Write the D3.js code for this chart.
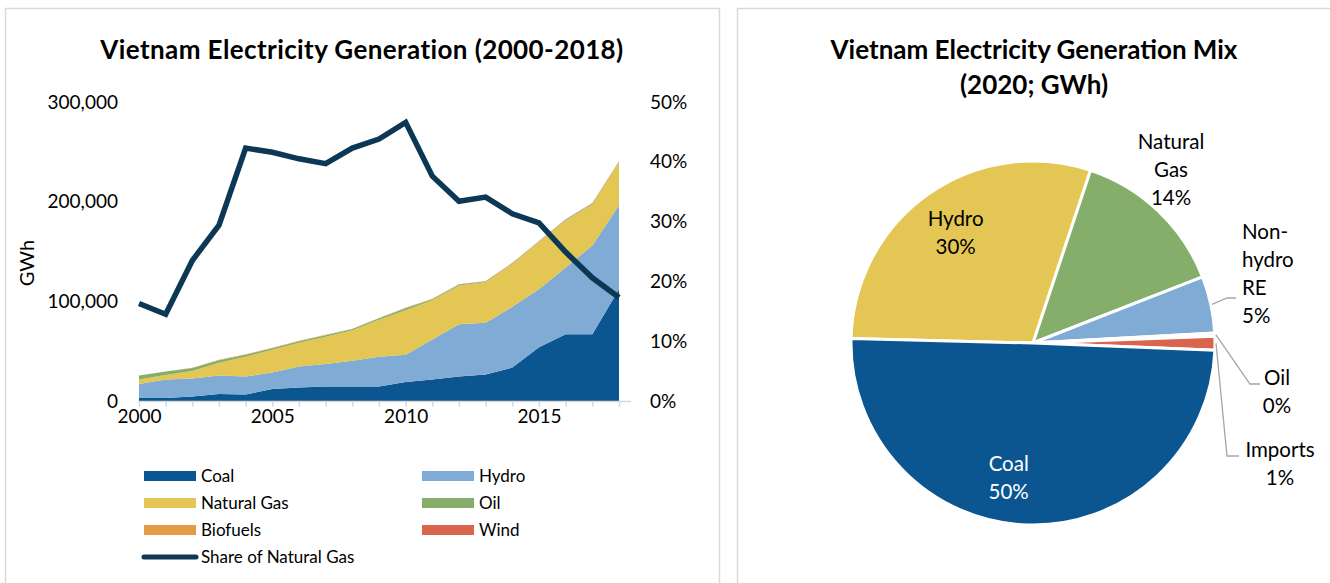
<!DOCTYPE html>
<html>
<head>
<meta charset="utf-8">
<script src="https://cdn.jsdelivr.net/npm/d3@7"></script>
<style>
  body { margin: 0; background: #fff; }
  svg { display: block; font-family: Lato, "Open Sans", sans-serif; }
</style>
</head>
<body>
<svg id="chart" width="1330" height="583"></svg>
<script>
// ---- data (GWh) ----
var years = d3.range(2000, 2019);
var coal     = [3000, 3000, 4500, 7000, 6500, 12000, 13500, 14500, 14500, 14500, 19000, 21500, 24500, 26500, 33500, 54000, 67000, 67000, 112000];
var hydro    = [14000, 18500, 18000, 18500, 18000, 16500, 21000, 22500, 26000, 30000, 27500, 40200, 52500, 52000, 61000, 58000, 67000, 89000, 84500];
var gas      = [4500, 4500, 7500, 13000, 20000, 23000, 24000, 27500, 30500, 37000, 44500, 39300, 39000, 41000, 43000, 47500, 47000, 41500, 43000];
var oil      = [4000, 3500, 3000, 2500, 2000, 1500, 1500, 1500, 1200, 1500, 2000, 1200, 800, 700, 600, 500, 800, 600, 500];
var biofuels = [0, 0, 300, 400, 400, 400, 400, 400, 300, 300, 400, 300, 200, 200, 300, 300, 200, 200, 200];
var wind     = [0, 0, 0, 0, 0, 0, 0, 0, 0, 0, 100, 100, 100, 100, 200, 200, 300, 300, 400];
var gasShare = [0.163, 0.145, 0.235, 0.294, 0.423, 0.416, 0.405, 0.397, 0.423, 0.438, 0.466, 0.376, 0.334, 0.341, 0.313, 0.298, 0.249, 0.206, 0.173];

var leftTicks  = [0, 100000, 200000, 300000];
var rightTicks = [0, 0.1, 0.2, 0.3, 0.4, 0.5];

var seriesNames  = ["Coal", "Hydro", "Natural Gas", "Oil", "Biofuels", "Wind"];
var seriesColors = ["#0b5591", "#7fabd4", "#e3c654", "#86ae6b", "#e39b44", "#d9654f"];

// 2020 mix (GWh)
var mixNames  = ["Hydro", "Natural Gas", "Non-hydro RE", "Oil", "Imports", "Coal"];
var mixValues = [73500, 34500, 12500, 700, 3000, 123000];
var mixColors = ["#e3c654", "#86ae6b", "#7fabd4", "#f4dab2", "#d9654f", "#0b5591"];

var svg = d3.select("#chart");

// panel frames
svg.append("rect").attr("x", 5.5).attr("y", 8.5).attr("width", 714).attr("height", 600)
  .attr("fill", "none").attr("stroke", "#d9d9d9").attr("stroke-width", 1.5);
svg.append("rect").attr("x", 737.5).attr("y", 8.5).attr("width", 620).attr("height", 600)
  .attr("fill", "none").attr("stroke", "#d9d9d9").attr("stroke-width", 1.5);

// ================= left: stacked area =================
var x = d3.scaleLinear().domain([2000, 2018]).range([139, 619]);
var y = d3.scaleLinear().domain([0, 300000]).range([401, 102]);
var y2 = d3.scaleLinear().domain([0, 0.5]).range([401, 102]);

svg.append("text").attr("x", 362).attr("y", 59).attr("text-anchor", "middle")
  .style("font-size", "26px").style("font-weight", "bold").style("letter-spacing", "0.4px")
  .text("Vietnam Electricity Generation (2000-2018)");

var table = years.map(function(yr, i) {
  return {year: yr, "Coal": coal[i], "Hydro": hydro[i], "Natural Gas": gas[i],
          "Oil": oil[i], "Biofuels": biofuels[i], "Wind": wind[i]};
});
var stack = d3.stack().keys(seriesNames)(table);
var color = d3.scaleOrdinal().domain(seriesNames).range(seriesColors);

var area = d3.area()
  .x(function(d) { return x(d.data.year); })
  .y0(function(d) { return y(d[0]); })
  .y1(function(d) { return y(d[1]); });

svg.append("g").selectAll("path").data(stack).enter().append("path")
  .attr("d", area)
  .attr("fill", function(d) { return color(d.key); });

// x axis
var xAxis = svg.append("g").attr("transform", "translate(0,401)")
  .call(d3.axisBottom(x).tickValues(years).tickSize(6).tickSizeOuter(0)
    .tickFormat(function(d) { return d % 5 === 0 ? d : ""; }));
xAxis.select(".domain").attr("d", "M138,0.5H631").attr("stroke", "#d9d9d9").attr("stroke-width", 1.5);
xAxis.selectAll(".tick line").attr("stroke", "#d9d9d9").attr("stroke-width", 1.5);
xAxis.selectAll(".tick text").attr("y", 9).style("font-size", "19px").style("font-family", "Lato").attr("fill", "#000");

// left axis
var yAxis = svg.append("g").attr("transform", "translate(118,0)")
  .call(d3.axisLeft(y).tickValues(leftTicks).tickSize(0).tickPadding(0).tickFormat(d3.format(",")));
yAxis.select(".domain").remove();
yAxis.selectAll(".tick text").style("font-size", "19px").style("font-family", "Lato").attr("fill", "#000");

// right axis
var y2Axis = svg.append("g").attr("transform", "translate(650,0)")
  .call(d3.axisRight(y2).tickValues(rightTicks).tickSize(0).tickPadding(0).tickFormat(d3.format(".0%")));
y2Axis.select(".domain").remove();
y2Axis.selectAll(".tick text").style("font-size", "19px").style("font-family", "Lato").attr("fill", "#000");

svg.append("text").attr("transform", "translate(34,263) rotate(-90)").attr("text-anchor", "middle")
  .style("font-size", "20px").text("GWh");

// share of natural gas line
var line = d3.line()
  .x(function(d, i) { return x(years[i]); })
  .y(function(d) { return y2(d); });
svg.append("path").datum(gasShare).attr("d", line)
  .attr("fill", "none").attr("stroke", "#0c3856").attr("stroke-width", 5.5).attr("stroke-linejoin", "miter");

// legend
var legendItems = seriesNames.map(function(n) { return {name: n, type: "area"}; });
legendItems.push({name: "Share of Natural Gas", type: "line"});
var legend = svg.append("g").selectAll("g").data(legendItems).enter().append("g")
  .attr("transform", function(d, i) {
    var col = d.type === "line" ? 0 : i % 2;
    var row = Math.floor(i / 2);
    return "translate(" + (144 + col * 278) + "," + (476 + row * 27) + ")";
  });
legend.filter(function(d) { return d.type === "area"; }).append("rect")
  .attr("x", 0).attr("y", -5).attr("width", 52).attr("height", 10)
  .attr("fill", function(d) { return color(d.name); });
legend.filter(function(d) { return d.type === "line"; }).append("line")
  .attr("x1", 0).attr("x2", 52).attr("y1", 0).attr("y2", 0)
  .attr("stroke", "#0c3856").attr("stroke-width", 5).attr("stroke-linecap", "round");
legend.append("text").attr("x", 57).attr("dy", "0.35em")
  .style("font-size", "17px").text(function(d) { return d.name; });

// ================= right: pie =================
var cx = 1033, cy = 343, r = 182;
svg.append("text").attr("x", 1034).attr("y", 59).attr("text-anchor", "middle")
  .style("font-size", "26px").style("font-weight", "bold")
  .text("Vietnam Electricity Generation Mix");
svg.append("text").attr("x", 1034).attr("y", 94).attr("text-anchor", "middle")
  .style("font-size", "26px").style("font-weight", "bold")
  .text("(2020; GWh)");

var total = d3.sum(mixValues);
var start = -88.6 * Math.PI / 180;
var pie = d3.pie().sort(null).startAngle(start).endAngle(start + 2 * Math.PI);
var arcs = pie(mixValues);
var arc = d3.arc().innerRadius(0).outerRadius(r);
var pieG = svg.append("g").attr("transform", "translate(" + cx + "," + cy + ")");
pieG.selectAll("path").data(arcs).enter().append("path")
  .attr("d", arc)
  .attr("fill", function(d, i) { return mixColors[i]; })
  .attr("stroke", "#fff").attr("stroke-width", 3);

function pct(v) { return Math.round(v / total * 100) + "%"; }
function edge(a, rr) {
  var m = (a.startAngle + a.endAngle) / 2;
  return [Math.sin(m) * rr, -Math.cos(m) * rr];
}

// inside labels (Hydro, Coal)
var inner = d3.arc().innerRadius(r * 0.74).outerRadius(r * 0.74);
[0, 5].forEach(function(i) {
  var c = inner.centroid(arcs[i]);
  var t = pieG.append("text").attr("text-anchor", "middle")
    .attr("fill", i === 5 ? "#fff" : "#000").style("font-size", "20.5px");
  t.append("tspan").attr("x", c[0] - (i === 5 ? 20 : 0)).attr("y", c[1] - 7).text(mixNames[i]);
  t.append("tspan").attr("x", c[0] - (i === 5 ? 20 : 0)).attr("y", c[1] + 21).text(pct(mixValues[i]));
});

// outside labels: lines of text and anchor position
var outside = [
  {i: 1, lines: ["Natural", "Gas"], x: 1171, y: 149, anchor: "middle", leader: null},
  {i: 2, lines: ["Non-", "hydro", "RE"], x: 1242, y: 239, anchor: "start", leader: [[1227, 298], [1236, 298]]},
  {i: 3, lines: ["Oil"], x: 1277, y: 385, anchor: "middle", leader: [[1250, 384], [1260, 384]]},
  {i: 4, lines: ["Imports"], x: 1280, y: 457, anchor: "middle", leader: [[1227, 456], [1239, 456]]}
];
outside.forEach(function(o) {
  var t = svg.append("text").attr("text-anchor", o.anchor).style("font-size", "20.5px");
  var ls = o.lines.concat([pct(mixValues[o.i])]);
  ls.forEach(function(s, k) {
    t.append("tspan").attr("x", o.x).attr("y", o.y + k * 28).text(s);
  });
  if (o.leader) {
    var e = edge(arcs[o.i], r + 1);
    var pts = [[cx + e[0], cy + e[1]]].concat(o.leader);
    svg.append("path").attr("d", d3.line()(pts))
      .attr("fill", "none").attr("stroke", "#a6a6a6").attr("stroke-width", 1.3);
  }
});
</script>
</body>
</html>
